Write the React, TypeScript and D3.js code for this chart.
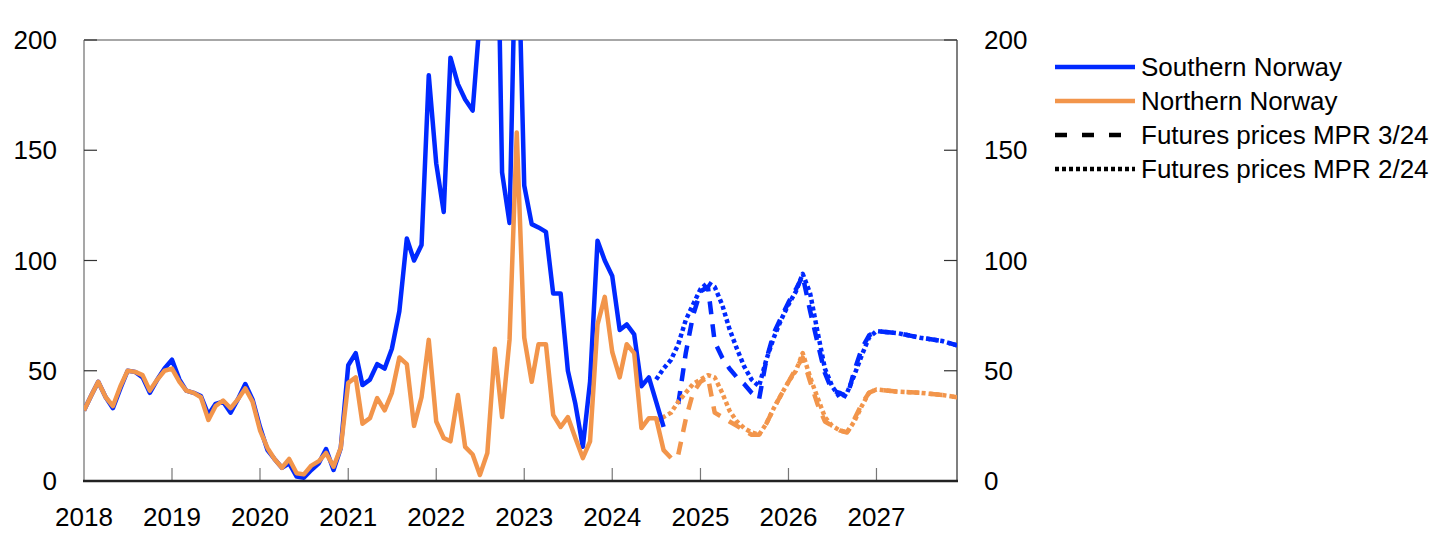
import React from "react";
import * as d3 from "d3";

// ---- Data ----
const histStart = "2018-01";
// Southern Norway, monthly Jan 2018 – Aug 2024
const southernNorway = [
  32, 39, 45, 38, 33, 42, 50, 49.5, 47, 40, 46, 51,
  55, 46, 41, 40, 38.5, 30, 35, 36, 31, 37, 44, 37,
  24.5, 14, 10, 6, 8, 2, 1.5, 5, 8, 14.5, 5, 15,
  52.5, 58, 43.5, 46, 53, 51, 60, 77, 110, 100, 107, 184,
  144, 122, 192, 180, 173, 168, 210, 400, 330, 140, 117, 270,
  134, 116.5, 115, 113, 85, 85, 50, 35, 15.5, 45, 109, 100,
  93, 68.5, 71, 66.5, 43, 47, 36, 24.5,
];
// Northern Norway, monthly Jan 2018 – Sep 2024
const northernNorway = [
  32, 39, 45, 38, 34, 43, 50, 49.5, 48, 41, 46, 50,
  51, 45, 41, 40, 38, 27.7, 34, 36.5, 33, 37, 42, 36,
  23, 15, 10, 6, 10, 3.5, 3, 7, 9, 12.7, 6.5, 15,
  44.5, 47, 26, 28.5, 37.6, 32, 40, 56, 53, 25, 38, 64,
  27, 19.5, 18, 39, 15.5, 12, 2.7, 12.7, 60, 29, 64, 158,
  65, 45, 62, 62, 30, 24.5, 29, 19.5, 10.4, 18, 71, 83.5,
  58.5, 47, 62, 58, 24, 28.5, 28.5, 14, 10.4,
];

// Futures prices MPR 2/24 (dotted), monthly Jul 2024 – Dec 2026
const mpr224Start = "2024-07";
const southMpr224 = [
  46, 51, 55, 62, 73, 80,
  87, 90, 88, 80, 69, 60, 52, 46, 43, 55, 65, 73,
  80, 86, 94, 85, 68, 51, 43, 38, 40, 48, 57, 65,
];
const northMpr224 = [
  27, 29, 31, 36, 40, 44,
  46, 48, 47, 40, 32, 27, 24, 22, 21, 26, 33, 39,
  45, 50, 58, 47, 38, 29, 25, 23, 22, 27, 34, 40,
];
// Futures prices MPR 3/24 (dashed), monthly Oct 2024 – Dec 2026
const mpr324Start = "2024-10";
const southMpr324 = [
  35, 58, 75,
  86, 88, 63, 56, 51, 47, 44, 40, 37, 55, 67, 74,
  81, 87, 93, 77, 63, 49, 41, 40, 38, 50, 60, 66,
];
const northMpr324 = [
  12, 28, 40,
  45, 47, 31, 29, 27, 25, 23, 21, 21, 26, 33, 39,
  45, 51, 56, 45, 35, 27, 25, 23, 22, 28, 35, 40,
];
// 2027 futures (same in both reports)
const tailDates = ["2027-01", "2027-04", "2027-07", "2027-10", "2027-12"];
const southTail = [68, 67, 65, 63.5, 61.5];
const northTail = [41.5, 40.5, 40, 39, 38];

const yTicks = [0, 50, 100, 150, 200];
const yearTicks = [2018, 2019, 2020, 2021, 2022, 2023, 2024, 2025, 2026, 2027];
const legendItems = [
  { label: "Southern Norway", kind: "south" },
  { label: "Northern Norway", kind: "north" },
  { label: "Futures prices MPR 3/24", kind: "dashed" },
  { label: "Futures prices MPR 2/24", kind: "dotted" },
];

// ---- Helpers ----
const parseMonth = d3.timeParse("%Y-%m");
type Pt = { date: Date; value: number };
function monthly(start: string, values: number[]): Pt[] {
  const s = parseMonth(start) as Date;
  return values.map((v, i) => ({ date: d3.timeMonth.offset(s, i), value: v }));
}
function withTail(pts: Pt[], tail: number[]): Pt[] {
  return pts.concat(tail.map((v, i) => ({ date: parseMonth(tailDates[i]) as Date, value: v })));
}

const BLUE = "#0029ff";
const ORANGE = "#f2954b";
const FONT = "'Liberation Sans', Arial, Helvetica, sans-serif";

export default function App() {
  const W = 1445;
  const H = 555;
  const left = 84;
  const right = 957;
  const top = 40;
  const bottom = 481;

  const x = d3
    .scaleTime()
    .domain([parseMonth("2018-01") as Date, parseMonth("2027-12") as Date])
    .range([left, right]);
  const y = d3.scaleLinear().domain([0, 200]).range([bottom, top]);

  const line = d3
    .line<Pt>()
    .x((d) => x(d.date))
    .y((d) => y(d.value));

  const south = monthly(histStart, southernNorway);
  const north = monthly(histStart, northernNorway);
  const s224 = withTail(monthly(mpr224Start, southMpr224), southTail);
  const n224 = withTail(monthly(mpr224Start, northMpr224), northTail);
  const s324 = withTail(monthly(mpr324Start, southMpr324), southTail);
  const n324 = withTail(monthly(mpr324Start, northMpr324), northTail);

  const DASH = "13,10";
  const DOT = "4,3";
  const LW = 4.5;

  const series = [
    { d: n224, color: ORANGE, dash: DOT },
    { d: n324, color: ORANGE, dash: DASH },
    { d: s224, color: BLUE, dash: DOT },
    { d: s324, color: BLUE, dash: DASH },
    { d: north, color: ORANGE, dash: undefined },
    { d: south, color: BLUE, dash: undefined },
  ];
  const order = [2, 3, 0, 1, 5, 4];

  return (
    <svg
      width={W}
      height={H}
      style={{ position: "absolute", left: 0, top: 0, background: "#fff" }}
      fontFamily={FONT}
    >
      <defs>
        <clipPath id="plot">
          <rect x={left} y={top} width={right - left} height={bottom - top} />
        </clipPath>
      </defs>

      {/* frame */}
      <line x1={left} x2={right} y1={top} y2={top} stroke="#8a8a8a" strokeWidth={1.5} />
      <line x1={left} x2={left} y1={top} y2={bottom} stroke="#8a8a8a" strokeWidth={1.5} />
      <line x1={right} x2={right} y1={top} y2={bottom} stroke="#555" strokeWidth={1.5} />

      {/* y ticks */}
      {yTicks.map((t) => (
        <g key={"y" + t}>
          <line x1={left} x2={left + 13} y1={y(t)} y2={y(t)} stroke="#333" strokeWidth={1.2} />
          <line x1={right - 13} x2={right} y1={y(t)} y2={y(t)} stroke="#333" strokeWidth={1.2} />
          <text x={57} y={y(t) + 9} fontSize={26} textAnchor="end" fill="#000">
            {t}
          </text>
          <text x={984} y={y(t) + 9} fontSize={26} textAnchor="start" fill="#000">
            {t}
          </text>
        </g>
      ))}

      {/* x ticks */}
      {yearTicks.map((yr) => {
        const xx = x(new Date(yr, 0, 1));
        return (
          <g key={"x" + yr}>
            {yr > 2018 && (
              <line x1={xx} x2={xx} y1={bottom} y2={bottom - 13} stroke="#777" strokeWidth={1.2} />
            )}
            <text x={xx} y={526} fontSize={26} textAnchor="middle" fill="#000">
              {yr}
            </text>
          </g>
        );
      })}

      {/* lines */}
      <g clipPath="url(#plot)">
        {order.map((i) => {
          const s = series[i];
          return (
            <path
              key={"s" + i}
              d={line(s.d) || ""}
              fill="none"
              stroke={s.color}
              strokeWidth={LW}
              strokeDasharray={s.dash}
              strokeLinejoin="round"
            />
          );
        })}
      </g>

      {/* bottom axis */}
      <line x1={left - 1} x2={right + 1} y1={bottom} y2={bottom} stroke="#222" strokeWidth={2.5} />

      {/* legend */}
      {legendItems.map((it, i) => {
        const ly = 67 + i * 34;
        let stroke = "#000";
        let dash: string | undefined = undefined;
        if (it.kind === "south") stroke = BLUE;
        if (it.kind === "north") stroke = ORANGE;
        if (it.kind === "dashed") dash = "12,15";
        if (it.kind === "dotted") dash = DOT;
        return (
          <g key={"l" + i}>
            <line
              x1={1055}
              x2={it.kind === "dashed" ? 1126 : 1135}
              y1={ly}
              y2={ly}
              stroke={stroke}
              strokeWidth={LW}
              strokeDasharray={dash}
            />
            <text x={1141} y={ly + 9} fontSize={26} fill="#000">
              {it.label}
            </text>
          </g>
        );
      })}
    </svg>
  );
}
